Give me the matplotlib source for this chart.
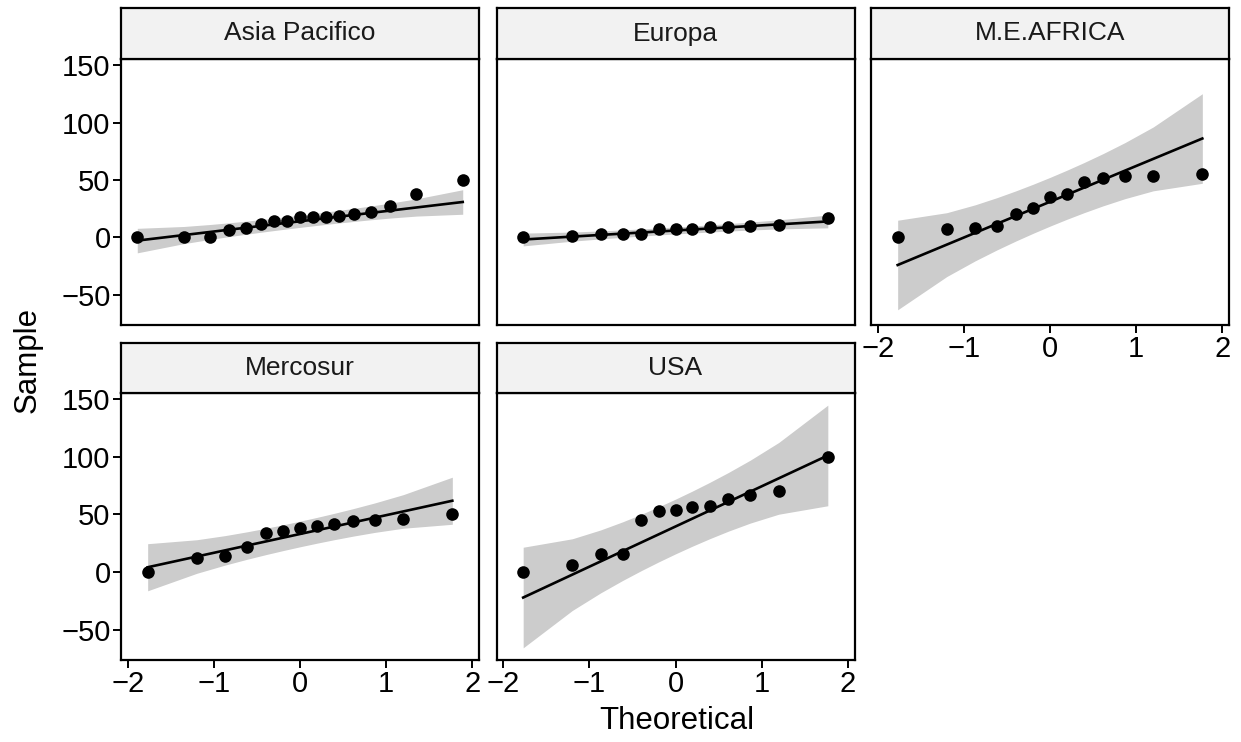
import numpy as np
import matplotlib
matplotlib.use("Agg")
import matplotlib.pyplot as plt
from statistics import NormalDist

plt.rcParams['font.family'] = ['Liberation Sans', 'DejaVu Sans']

# sample values per region, sorted
regions = ['Asia Pacifico', 'Europa', 'M.E.AFRICA', 'Mercosur', 'USA']
asia = [0, 0, 0, 6, 8, 12, 14, 14, 18, 18, 18, 19, 20, 22, 27, 38, 50]
europa = [0, 1, 3, 3, 3, 7, 7, 7, 9, 9, 10, 11, 17]
meafrica = [0, 7, 8, 10, 20, 26, 35, 38, 48, 52, 53, 53, 55]
mercosur = [0, 12, 14, 22, 34, 36, 38, 40, 42, 44, 45, 46, 50]
usa = [0, 6, 16, 16, 45, 53, 54, 56, 57, 63, 67, 70, 100]
samples = [asia, europa, meafrica, mercosur, usa]

xticks = [-2, -1, 0, 1, 2]
yticks = [-50, 0, 50, 100, 150]

nd = NormalDist()
z = nd.inv_cdf(0.975)


def qq_stats(vals):
    y = np.sort(np.asarray(vals, dtype=float))
    n = len(y)
    a = 3 / 8 if n <= 10 else 0.5
    p = (np.arange(1, n + 1) - a) / (n + 1 - 2 * a)
    q = np.array([nd.inv_cdf(v) for v in p])
    # line through the quartiles
    y1, y2 = np.quantile(y, [0.25, 0.75])
    x1, x2 = nd.inv_cdf(0.25), nd.inv_cdf(0.75)
    slope = (y2 - y1) / (x2 - x1)
    inter = y1 - slope * x1
    fit = inter + slope * q
    dens = np.array([nd.pdf(v) for v in q])
    se = slope / dens * np.sqrt(p * (1 - p) / n)
    return q, y, fit, fit - z * se, fit + z * se


stats = [qq_stats(s) for s in samples]

# shared scales with 5% expansion
all_x = np.concatenate([s[0] for s in stats])
all_y = np.concatenate([np.concatenate([s[1], s[3], s[4]]) for s in stats])
xr = all_x.max() - all_x.min()
yr = all_y.max() - all_y.min()
xlim = (all_x.min() - 0.05 * xr, all_x.max() + 0.05 * xr)
ylim = (all_y.min() - 0.05 * yr, all_y.max() + 0.05 * yr)

W, H = 1241, 742
fig = plt.figure(figsize=(W / 100, H / 100), dpi=100)

col_left = [121, 496.5, 871]
pw = 358
rows = [(8, 59, 325), (343, 393, 660)]  # strip top, panel top, panel bottom
lw = 1.6

for i, (name, st) in enumerate(zip(regions, stats)):
    r, c = divmod(i, 3)
    st_top, p_top, p_bot = rows[r]
    L = col_left[c]
    ax = fig.add_axes([L / W, 1 - p_bot / H, pw / W, (p_bot - p_top) / H])
    sax = fig.add_axes([L / W, 1 - p_top / H, pw / W, (p_top - st_top) / H])

    q, y, fit, lo, hi = st
    ax.fill_between(q, lo, hi, color='#cccccc', lw=0, zorder=1)
    ax.plot([q[0], q[-1]], [fit[0], fit[-1]], color='black', lw=1.9, zorder=2)
    ax.scatter(q, y, s=82, color='black', lw=0, zorder=3)
    ax.set_xlim(xlim)
    ax.set_ylim(ylim)
    ax.set_xticks(xticks)
    ax.set_yticks(yticks)
    for sp in ax.spines.values():
        sp.set_linewidth(lw)
    ax.tick_params(direction='out', length=5.5, width=1.4, labelsize=21, pad=2, colors='black')
    if c != 0:
        ax.tick_params(axis='y', left=False, labelleft=False)
    show_x = (r == 1) or (i == 2)
    if not show_x:
        ax.tick_params(axis='x', bottom=False, labelbottom=False)

    sax.set_facecolor('#f2f2f2')
    sax.set_xticks([])
    sax.set_yticks([])
    for sp in sax.spines.values():
        sp.set_linewidth(lw)
    sax.text(0.5, 0.5, name, ha='center', va='center', fontsize=19, color='#1a1a1a',
             transform=sax.transAxes)

fig.text(677 / W, 1 - 721 / H, 'Theoretical', ha='center', va='center', fontsize=22.5)
fig.text(28 / W, 1 - 360 / H, 'Sample', ha='center', va='center', fontsize=22.5, rotation=90)

fig.savefig('out.png', dpi=100)
